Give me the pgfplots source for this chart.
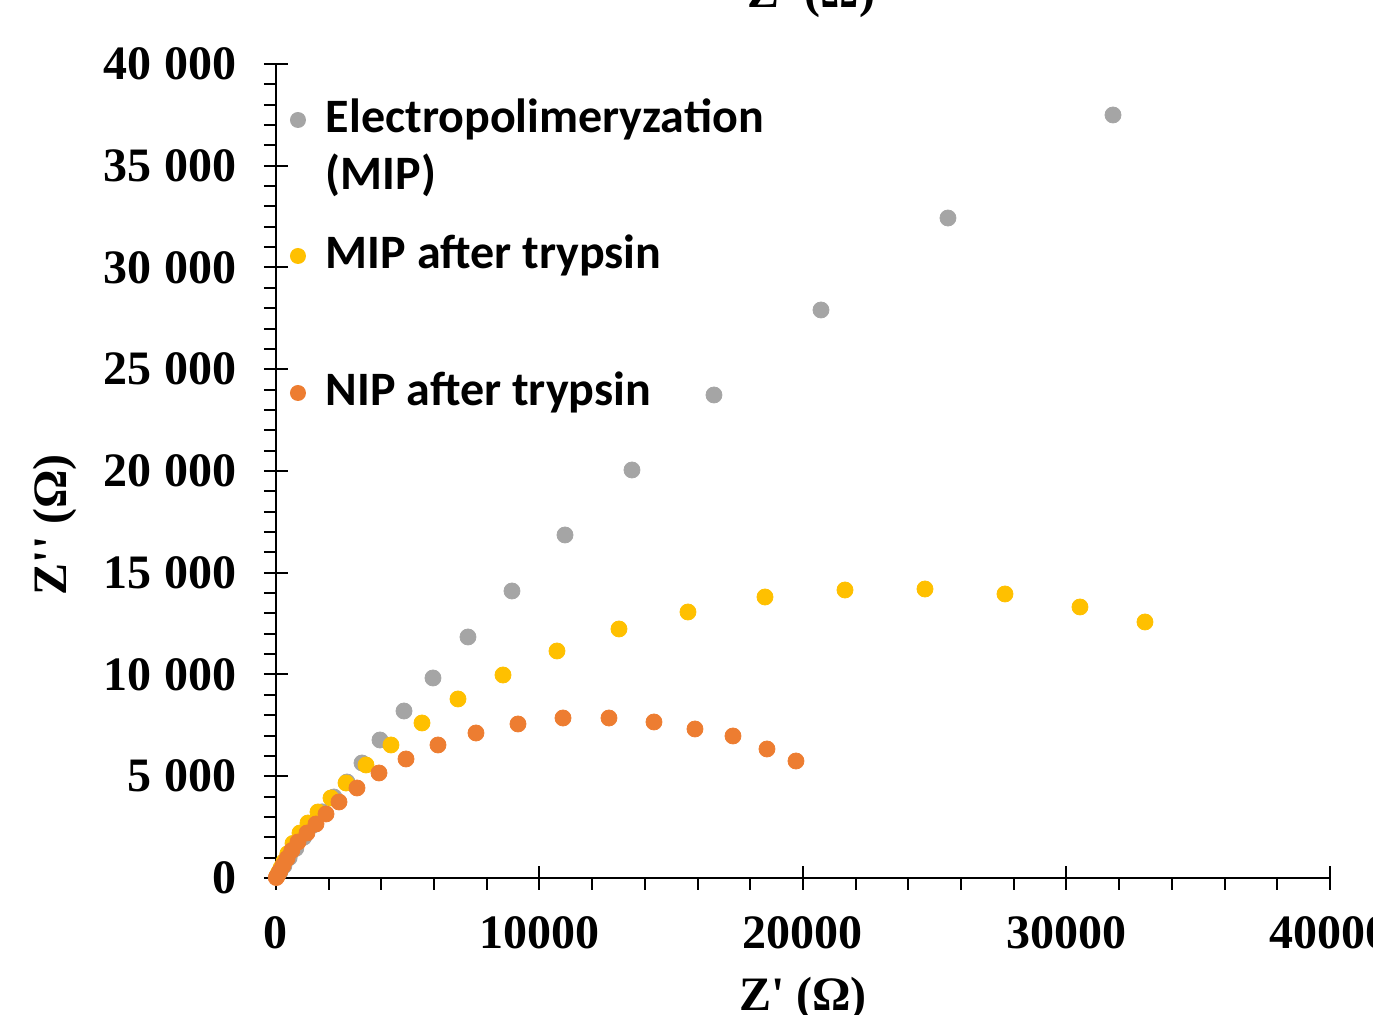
\documentclass[border=0pt]{standalone}
\usepackage{pgfplots}
\pgfplotsset{compat=1.18}
\usepackage{fontspec}
\setmainfont{Liberation Serif}[Ligatures=Common]
\newfontfamily\legfont{Carlito}
\definecolor{cgray}{HTML}{A5A5A5}
\definecolor{cyel}{HTML}{FFC000}
\definecolor{corg}{HTML}{ED7D31}
\newcommand{\bigf}{\fontsize{24}{28}\selectfont\bfseries}
\begin{document}
\begin{tikzpicture}
\path[use as bounding box] (-138pt,-68.5pt) rectangle (548.5pt,439pt);
\clip (-138pt,-68.5pt) rectangle (548.5pt,439pt);
\begin{axis}[
  at={(0pt,0pt)}, anchor=south west,
  scale only axis, width=527pt, height=407pt,
  xmin=0, xmax=40000, ymin=0, ymax=40000,
  axis lines*=left,
  axis line style={line width=1.3pt},
  xtick={0,10000,20000,30000,40000},
  ytick={0,5000,...,40000},
  minor x tick num=4, minor y tick num=4,
  tick style={black, line width=1pt},
  major tick length=12pt, minor tick length=6pt,
  tick align=center,
  minor x tick style={yshift=-3pt},
  minor y tick style={xshift=-3pt},
  scaled ticks=false,
  /pgf/number format/assume math mode=true,
  ticklabel style={font=\bigf},
  xticklabel style={/pgf/number format/1000 sep={}, yshift=-10pt},
  yticklabel style={/pgf/number format/1000 sep={\hspace{0.28em}}, xshift=-10pt},
  label style={font=\bigf},
  xlabel={Z\textquotesingle\ (Ω)},
  ylabel={Z\textquotesingle\textquotesingle\ (Ω)},
  xlabel style={at={(axis description cs:0.5,-0.149)}, anchor=center},
  ylabel style={at={(axis description cs:-0.2097,0.434)}, anchor=center},
  clip=false,
  legend image code/.code={%
    \path[draw=none,fill=none] (-4pt,0pt) -- (4pt,0pt);
    \fill[#1, draw=none] (0pt,6.5pt) circle[radius=4pt];},
  legend style={at={(axis description cs:0.01328,0.957)}, anchor=north west,
    draw=none, fill=none, inner sep=0pt, outer sep=0pt,
    column sep=10pt, row sep=6.5pt,
    font=\legfont\bfseries\fontsize{24}{28}\selectfont,
    nodes={inner sep=0pt, text height=17pt, text depth=5pt, anchor=base west}},
]
\addplot[only marks, mark=*, mark size=4pt, color=cgray] coordinates {
(150,300)(300,600)(500,1000)(750,1450)(1050,2000)(1400,2600)(1750,3250)
(2200,3980)(2694,4717)(3264,5651)(3947,6781)(4858,8206)(5958,9828)
(7286,11843)(8956,14103)(10968,16855)(13510,20049)(16622,23735)
(20683,27912)(25502,32432)(31765,37494)};
\addlegendentry{Electropolimeryzation}
\addlegendimage{empty legend}
\addlegendentry[text depth=16pt]{(MIP)}
\addplot[only marks, mark=*, mark size=4pt, color=cyel] coordinates {
(40,100)(110,280)(200,520)(300,800)(450,1200)(645,1700)(911,2211)
(1214,2703)(1594,3243)(2087,3931)(2657,4668)(3416,5553)(4364,6536)
(5541,7617)(6907,8796)(8615,9975)(10664,11155)(13017,12236)
(15635,13071)(18558,13808)(21594,14152)(24630,14201)(27666,13956)
(30512,13317)(32979,12580)};
\addlegendentry[text depth=45pt]{MIP after trypsin}
\addplot[only marks, mark=*, mark size=4pt, color=corg] coordinates {
(10,20)(60,130)(150,340)(270,620)(420,960)(600,1350)(835,1769)
(1176,2211)(1518,2654)(1898,3145)(2391,3735)(3074,4423)(3909,5160)
(4934,5848)(6148,6536)(7590,7125)(9184,7568)(10892,7862)(12637,7862)
(14345,7666)(15901,7322)(17343,6978)(18633,6339)(19734,5749)};
\addlegendentry{NIP after trypsin}
\node[font=\bigf, anchor=base] at (axis description cs:0.508,1.0688) {Z\textquotesingle\ (Ω)};
\end{axis}
\end{tikzpicture}
\end{document}
